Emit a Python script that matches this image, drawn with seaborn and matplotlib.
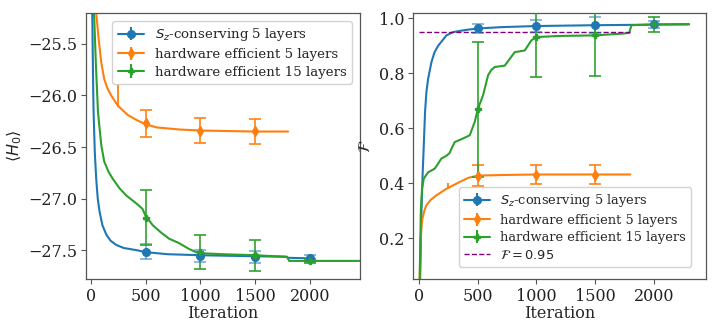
import numpy as np
import pandas as pd
import matplotlib
matplotlib.use("Agg")
import matplotlib.pyplot as plt
import seaborn as sns

# ---------------- data ----------------
labels = [r"$S_z$-conserving 5 layers", "hardware efficient 5 layers", "hardware efficient 15 layers"]
colors = ["#1f77b4", "#ff7f0e", "#2ca02c"]
markers = ["o", "d", "P"]

# Left panel: energy <H0> curves
blue_e_x = [5, 12, 18, 24, 35, 48, 62, 79, 105, 140, 180, 231, 300, 413, 500, 700, 1000, 1500, 1780, 1800, 2000]
blue_e_y = [-23.5, -25.2, -25.75, -26.16, -26.55, -26.81, -27.0, -27.13, -27.26, -27.35, -27.41, -27.45,
            -27.48, -27.50, -27.52, -27.54, -27.55, -27.56, -27.565, -27.575, -27.58]
orange_e_x = [10, 48, 70, 94, 121, 150, 185, 246, 337, 420, 500, 600, 805, 1000, 1500, 1800]
orange_e_y = [-24.0, -25.2, -25.45, -25.68, -25.84, -25.93, -26.0, -26.1, -26.19, -26.24, -26.28, -26.31,
              -26.33, -26.34, -26.35, -26.35]
green_e_x = [12, 28, 45, 64, 94, 121, 160, 200, 260, 322, 429, 470, 500, 565, 640, 714, 800, 897, 960,
             1000, 1200, 1500, 1790, 1810, 2460]
green_e_y = [-24.0, -25.2, -25.7, -26.16, -26.48, -26.64, -26.74, -26.81, -26.9, -26.97, -27.06, -27.1,
             -27.17, -27.26, -27.33, -27.39, -27.43, -27.49, -27.52, -27.53, -27.54, -27.55, -27.565,
             -27.605, -27.605]

# Left panel: markers with error bars
blue_e_mx = [500, 1000, 1500, 2000]
blue_e_my = [-27.515, -27.555, -27.565, -27.58]
blue_e_err = [0.075, 0.06, 0.06, 0.035]
orange_e_mx = [500, 1000, 1500]
orange_e_my = [-26.27, -26.34, -26.346]
orange_e_err = [0.13, 0.123, 0.12]
orange_e_bar_x = [250]
orange_e_bar_y = [-26.0]
orange_e_bar_err = [0.11]
green_e_mx = [500, 1000, 1500, 2000]
green_e_my = [-27.185, -27.515, -27.55, -27.61]
green_e_err = [0.265, 0.165, 0.15, 0.02]

# Right panel: fidelity curves
blue_f_x = [5, 11, 20, 30, 40, 51, 62, 77, 105, 130, 162, 233, 290, 400, 500, 700, 1000, 1500, 2000, 2300]
blue_f_y = [0.0, 0.085, 0.296, 0.43, 0.538, 0.66, 0.73, 0.78, 0.84, 0.875, 0.90, 0.938, 0.95, 0.958,
            0.963, 0.968, 0.972, 0.975, 0.977, 0.978]
orange_f_x = [3, 11, 20, 28, 45, 62, 100, 147, 233, 347, 420, 500, 700, 1000, 1500, 1800]
orange_f_y = [0.0, 0.175, 0.24, 0.271, 0.30, 0.32, 0.34, 0.356, 0.38, 0.405, 0.42, 0.428, 0.43, 0.432,
              0.432, 0.432]
green_f_x = [3, 15, 25, 40, 77, 133, 160, 190, 233, 260, 276, 304, 375, 432, 474, 500, 545, 588, 615,
             645, 730, 773, 815, 900, 957, 1000, 1200, 1500, 1750, 1790, 1810, 2000, 2300]
green_f_y = [0.0, 0.30, 0.38, 0.417, 0.44, 0.453, 0.47, 0.49, 0.50, 0.51, 0.526, 0.55, 0.563, 0.575,
             0.623, 0.669, 0.72, 0.793, 0.812, 0.823, 0.828, 0.853, 0.877, 0.883, 0.92, 0.932, 0.936,
             0.938, 0.945, 0.947, 0.975, 0.978, 0.979]

blue_f_mx = [500, 1000, 1500, 2000]
blue_f_my = [0.964, 0.972, 0.976, 0.978]
blue_f_err = [0.016, 0.022, 0.03, 0.012]
orange_f_mx = [500, 1000, 1500]
orange_f_my = [0.427, 0.431, 0.431]
orange_f_err = [0.038, 0.035, 0.035]
orange_f_bar_x = [250]
orange_f_bar_y = [0.39]
orange_f_bar_err = [0.012]
green_f_mx = [500, 1000, 1500, 2000]
green_f_my = [0.669, 0.932, 0.938, 0.978]
green_f_err = [0.245, 0.145, 0.148, 0.028]

threshold = 0.95
threshold_span = [0, 1800]
threshold_label = r"$\mathcal{F} = 0.95$"

# ---------------- style ----------------
sns.set_theme(style="ticks")
plt.rcParams["font.family"] = ["DejaVu Serif"]
plt.rcParams["mathtext.fontset"] = "dejavusans"
plt.rcParams["axes.edgecolor"] = "#555555"
plt.rcParams["xtick.color"] = "#555555"
plt.rcParams["ytick.color"] = "#555555"
plt.rcParams["xtick.labelcolor"] = "#222222"
plt.rcParams["ytick.labelcolor"] = "#222222"

fig = plt.figure(figsize=(7.26, 3.21), dpi=100)
axL = fig.add_axes([0.1185, 0.131, 0.3775, 0.8285])
axR = fig.add_axes([0.569, 0.131, 0.4035, 0.829])


def draw(ax, curves, marks, bar250):
    for (cx, cy), col in zip(curves, colors):
        df = pd.DataFrame({"x": cx, "y": cy})
        sns.lineplot(data=df, x="x", y="y", ax=ax, color=col, lw=1.5, sort=False,
                     estimator=None, legend=False)
    for (mx, my, me), col, mk, lab in zip(marks, colors, markers, labels):
        ealpha = 0.55 if col == colors[0] else 0.9
        eb = ax.errorbar(mx, my, yerr=me, fmt=mk, color=col, ms=5.5 if mk == "o" else 5,
                         capsize=4, elinewidth=1.3, capthick=1.3, ecolor=col, zorder=5)
        for art in eb[1] + eb[2]:
            art.set_alpha(ealpha)
    bx, by, be = bar250
    ax.errorbar(bx, by, yerr=be, fmt="none", ecolor=colors[1], elinewidth=1.3)


draw(axL,
     [(blue_e_x, blue_e_y), (orange_e_x, orange_e_y), (green_e_x, green_e_y)],
     [(blue_e_mx, blue_e_my, blue_e_err), (orange_e_mx, orange_e_my, orange_e_err),
      (green_e_mx, green_e_my, green_e_err)],
     (orange_e_bar_x, orange_e_bar_y, orange_e_bar_err))
draw(axR,
     [(blue_f_x, blue_f_y), (orange_f_x, orange_f_y), (green_f_x, green_f_y)],
     [(blue_f_mx, blue_f_my, blue_f_err), (orange_f_mx, orange_f_my, orange_f_err),
      (green_f_mx, green_f_my, green_f_err)],
     (orange_f_bar_x, orange_f_bar_y, orange_f_bar_err))

axR.plot(threshold_span, [threshold, threshold], ls="--", color="purple", lw=1.0, zorder=3)


def legend_handles(ax, with_threshold=False):
    hs = []
    for col, mk, lab in zip(colors, markers, labels):
        h = ax.errorbar([np.nan], [np.nan], yerr=[np.nan], fmt="-" + mk, color=col,
                        ms=5.5 if mk == "o" else 5, lw=1.5, label=lab)
        hs.append(h)
    if with_threshold:
        h, = ax.plot([np.nan], [np.nan], ls="--", color="purple", lw=1.0, label=threshold_label)
        hs.append(h)
    return hs


hL = legend_handles(axL)
axL.legend(handles=hL, loc="upper right", fontsize=9.6, frameon=True, framealpha=0.85,
           edgecolor="#cccccc", handlelength=2.0, borderpad=0.4, labelspacing=0.35,
           bbox_to_anchor=(0.995, 0.995))
hR = legend_handles(axR, True)
axR.legend(handles=hR, loc="lower right", bbox_to_anchor=(0.972, 0.02), fontsize=9.4, frameon=True,
           framealpha=0.85, edgecolor="#cccccc", handlelength=2.0, borderpad=0.4, labelspacing=0.35)

axL.set_xlim(-45, 2457)
axL.set_ylim(-27.78, -25.2)
axL.set_yticks([-27.5, -27.0, -26.5, -26.0, -25.5])
axR.set_xlim(-51, 2445)
axR.set_ylim(0.052, 1.02)
axR.set_yticks([0.2, 0.4, 0.6, 0.8, 1.0])
for ax in (axL, axR):
    ax.set_xticks([0, 500, 1000, 1500, 2000])
    ax.tick_params(labelsize=11.5, length=3.5, width=0.8, pad=3)
    ax.set_xlabel("Iteration", fontsize=11.5, labelpad=0)
    for s in ax.spines.values():
        s.set_visible(True)
        s.set_linewidth(0.9)
axL.set_ylabel(r"$\langle H_0 \rangle$", fontsize=11.5, labelpad=3)
axR.set_ylabel(r"$\mathcal{F}$", fontsize=11.5, labelpad=3)

fig.savefig("out.png", dpi=100)
